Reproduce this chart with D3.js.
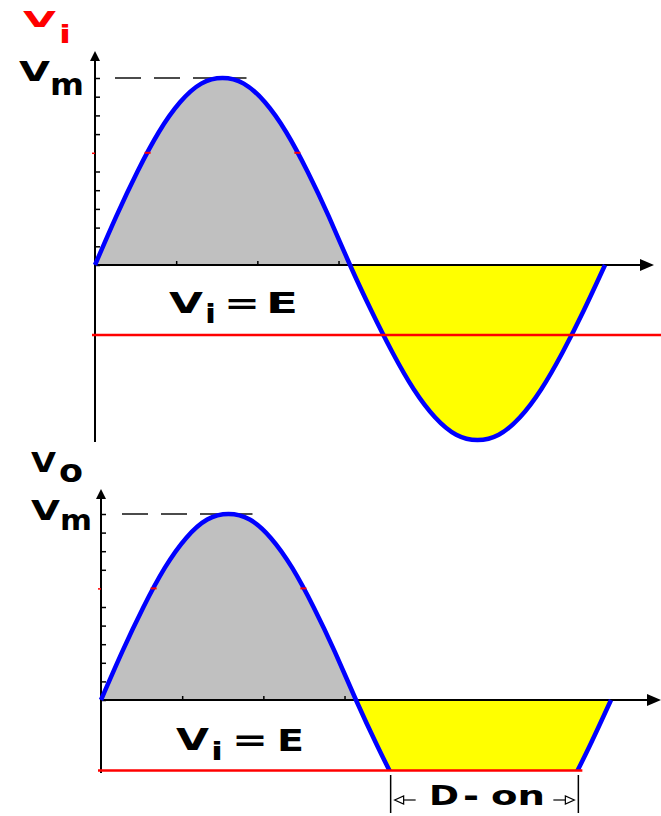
<!DOCTYPE html>
<html>
<head>
<meta charset="utf-8">
<script src="https://cdn.jsdelivr.net/npm/d3@7"></script>
<style>
  body { margin: 0; background: #fff; }
  svg text { font-family: "DejaVu Sans", Verdana, sans-serif; font-weight: bold; }
</style>
</head>
<body>
<div id="chart-area"></div>
<script>
// phase of the input wave (degrees) and its value as a fraction of Vm
var angles = [0, 15, 30, 45, 60, 75, 90, 105, 120, 135, 150, 165, 180,
              195, 210, 225, 240, 255, 270, 285, 300, 315, 330, 345, 360];
var vi = [0, 0.26, 0.5, 0.71, 0.87, 0.97, 1, 0.97, 0.87, 0.71, 0.5, 0.26, 0,
          -0.26, -0.5, -0.71, -0.87, -0.97, -1, -0.97, -0.87, -0.71, -0.5, -0.26, 0];
var E = -0.4;                 // clipping level Vi = E
var markLevel = 0.6;          // small red marks on the curve
var yTicks = [0, 0.1, 0.2, 0.3, 0.4, 0.5, 0.6, 0.7, 0.8, 0.9, 1];
var xTicks = [57.3, 114.6, 171.9];   // 1, 2, 3 rad

var W = 661, H = 816;
var svg = d3.select("#chart-area").append("svg")
    .attr("width", W)
    .attr("height", H);

var data = angles.map(function(a, i) { return {a: a, v: vi[i]}; });

// where the sampled wave crosses a level
function crossings(level) {
    var out = [];
    for (var i = 1; i < data.length; i++) {
        var p = data[i - 1], q = data[i];
        if ((p.v - level) * (q.v - level) < 0) {
            out.push(p.a + (q.a - p.a) * (level - p.v) / (q.v - p.v));
        }
    }
    return out;
}

// stretched bold label piece
function label(txt, x0, x1, base, size, color) {
    svg.append("text")
        .attr("x", x0)
        .attr("y", base)
        .attr("font-size", size)
        .attr("fill", color || "#000")
        .attr("textLength", x1 - x0)
        .attr("lengthAdjust", "spacingAndGlyphs")
        .text(txt);
}

function panel(p) {
    var x = d3.scaleLinear().domain([0, 360]).range(p.xr);
    var y = d3.scaleLinear().domain([-1, 0, 1]).range(p.yr);
    var x0 = x(0), y0 = y(0), yE = y(E);

    var area = d3.area()
        .x(function(d) { return x(d.a); })
        .y0(y0)
        .y1(function(d) { return y(d.v); })
        .curve(d3.curveNatural);
    var line = d3.line()
        .x(function(d) { return x(d.a); })
        .y(function(d) { return y(d.v); })
        .curve(d3.curveNatural);

    var defs = svg.append("defs");
    defs.append("clipPath").attr("id", p.id + "-pos")
        .append("rect").attr("x", 0).attr("y", 0).attr("width", W).attr("height", y0);
    defs.append("clipPath").attr("id", p.id + "-neg")
        .append("rect").attr("x", 0).attr("y", y0).attr("width", W)
        .attr("height", p.clip ? yE - y0 : H - y0);
    defs.append("clipPath").attr("id", p.id + "-curve")
        .append("rect").attr("x", 0).attr("y", 0).attr("width", W)
        .attr("height", p.clip ? yE : H);

    svg.append("path").datum(data)
        .attr("d", area)
        .attr("fill", "#c0c0c0")
        .attr("clip-path", "url(#" + p.id + "-pos)");
    svg.append("path").datum(data)
        .attr("d", area)
        .attr("fill", "#ffff00")
        .attr("clip-path", "url(#" + p.id + "-neg)");

    // dashed Vm guide
    svg.append("line")
        .attr("x1", x0 + p.dashStart).attr("x2", x(90) + 24)
        .attr("y1", y(1)).attr("y2", y(1))
        .attr("stroke", "#111").attr("stroke-width", 1.5)
        .attr("stroke-dasharray", "26,13");

    // axes
    svg.append("line")
        .attr("x1", x0).attr("x2", p.xEnd - 10)
        .attr("y1", y0).attr("y2", y0)
        .attr("stroke", "#000").attr("stroke-width", 2);
    svg.append("path")
        .attr("d", "M" + p.xEnd + "," + y0 + "L" + (p.xEnd - 14) + "," + (y0 - 6) +
              "L" + (p.xEnd - 14) + "," + (y0 + 6) + "Z")
        .attr("fill", "#000");
    svg.append("line")
        .attr("x1", x0).attr("x2", x0)
        .attr("y1", p.yTop + 8).attr("y2", p.yBottom)
        .attr("stroke", "#000").attr("stroke-width", 2);
    svg.append("path")
        .attr("d", "M" + x0 + "," + p.yTop + "L" + (x0 - 5) + "," + (p.yTop + 10) +
              "L" + (x0 + 5) + "," + (p.yTop + 10) + "Z")
        .attr("fill", "#000");

    var yAxis = svg.append("g")
        .attr("transform", "translate(" + x0 + ",0)")
        .call(d3.axisRight(y).tickValues(yTicks).tickSize(5).tickFormat(""));
    yAxis.select(".domain").remove();
    yAxis.selectAll(".tick line").attr("stroke-width", 1.5);
    yAxis.selectAll(".tick").filter(function(d) { return d === markLevel; })
        .select("line").attr("stroke", "#ff0000").attr("x1", -3).attr("x2", 0);

    var xAxis = svg.append("g")
        .attr("transform", "translate(0," + y0 + ")")
        .call(d3.axisTop(x).tickValues(xTicks).tickSize(4).tickFormat(""));
    xAxis.select(".domain").remove();
    xAxis.selectAll(".tick line").attr("stroke-width", 1.5);

    // wave
    svg.append("path").datum(data)
        .attr("d", line)
        .attr("fill", "none")
        .attr("stroke", "#0000ff")
        .attr("stroke-width", 4.5)
        .attr("clip-path", "url(#" + p.id + "-curve)");

    crossings(markLevel).forEach(function(a) {
        svg.append("line")
            .attr("x1", x(a) - 3).attr("x2", x(a) + 3)
            .attr("y1", y(markLevel)).attr("y2", y(markLevel))
            .attr("stroke", "#ff0000").attr("stroke-width", 2);
    });

    // E level
    var cE = crossings(E);
    svg.append("line")
        .attr("x1", x0 - 3).attr("x2", p.clip ? x(cE[1]) + 5 : W)
        .attr("y1", yE).attr("y2", yE)
        .attr("stroke", "#ff0000").attr("stroke-width", 2.5);

    return {x: x, y: y, cE: cE};
}

// input
panel({id: "vi", xr: [95, 605], yr: [440, 265, 78], xEnd: 654, yTop: 51, yBottom: 442,
       dashStart: 20, clip: false});
label("V", 23, 56, 27, 22, "#ff0000");
label("i", 59, 71, 43, 24, "#ff0000");
label("V", 19, 50, 81, 26);
label("m", 50, 84, 95, 31);
label("V", 169, 203, 313, 29);
label("i", 205, 216, 323, 26);
label("=", 224, 260, 313, 29);
label("E", 266, 298, 313, 29);

// output
var out = panel({id: "vo", xr: [101, 611], yr: [876, 700, 514], xEnd: 661, yTop: 489, yBottom: 773,
                 dashStart: 21, clip: true});
label("V", 31, 56, 472, 27);
label("o", 59, 83, 482, 32);
label("V", 31, 60, 520, 27);
label("m", 60, 92, 530, 29);
label("V", 176, 209, 750, 30);
label("i", 211, 223, 760, 24);
label("=", 232, 268, 750, 30);
label("E", 277, 304, 751, 30);

// D-on interval
var xa = out.x(out.cE[0]) + 1, xb = out.x(out.cE[1]) + 1;
[xa, xb].forEach(function(xx) {
    svg.append("line")
        .attr("x1", xx).attr("x2", xx)
        .attr("y1", 775).attr("y2", 813)
        .attr("stroke", "#000").attr("stroke-width", 1.5);
});
[[xa + 4, 1], [xb - 4, -1]].forEach(function(s) {
    var tip = s[0], dir = s[1];
    svg.append("line")
        .attr("x1", tip + dir * 6).attr("x2", tip + dir * 21)
        .attr("y1", 800).attr("y2", 800)
        .attr("stroke", "#000").attr("stroke-width", 1.2);
    svg.append("path")
        .attr("d", "M" + tip + ",800L" + (tip + dir * 9) + ",796L" + (tip + dir * 9) + ",804Z")
        .attr("fill", "#fff").attr("stroke", "#000").attr("stroke-width", 1.2);
});
label("D", 429, 459, 805, 27);
label("-", 463, 479, 807, 32);
label("on", 491, 545, 805, 27);
</script>
</body>
</html>
